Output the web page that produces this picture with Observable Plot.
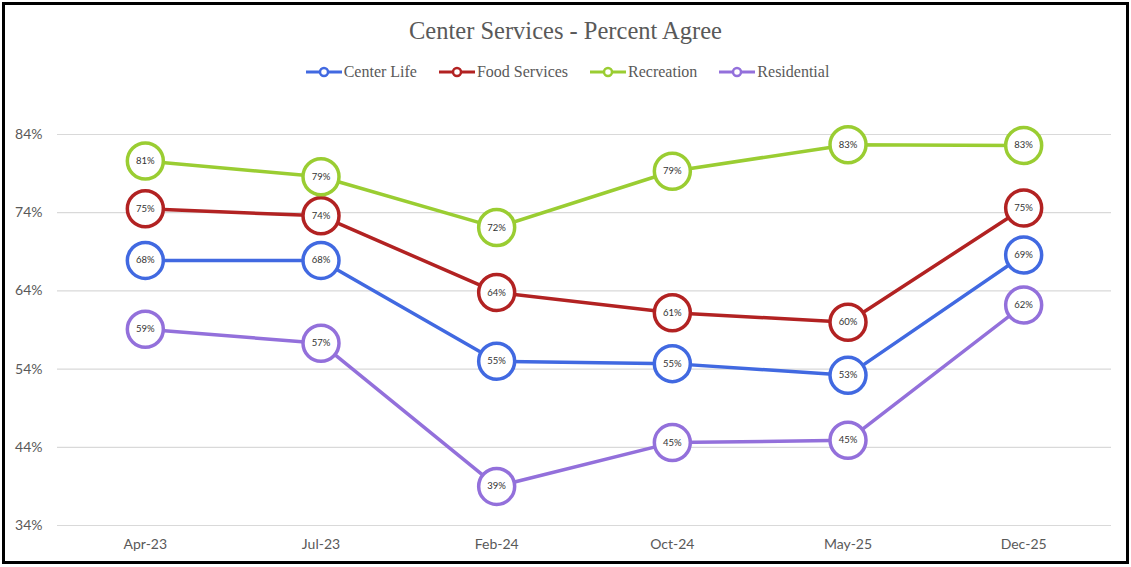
<!DOCTYPE html>
<html>
<head>
<meta charset="utf-8">
<script src="https://cdn.jsdelivr.net/npm/d3@7"></script>
<script src="https://cdn.jsdelivr.net/npm/@observablehq/plot@0.6"></script>
<style>
  html, body { margin: 0; padding: 0; background: #fff; width: 1131px; height: 567px; overflow: hidden; }
  #frame { position: absolute; left: 2px; top: 2px; width: 1127px; height: 562px; border: 3px solid #000; box-sizing: border-box; }
  #title { position: absolute; left: 0; top: 16px; width: 1131px; text-align: center; font-family: "Liberation Serif", "Times New Roman", serif; font-size: 24.5px; line-height: 30px; color: #595959; }
  #legend { position: absolute; left: 2px; top: 62px; width: 1131px; height: 20px; display: flex; justify-content: center; align-items: center; font-family: "Liberation Serif", "Times New Roman", serif; font-size: 16px; color: #595959; }
  .item { display: flex; align-items: center; margin: 0 11px; }
  .item svg { margin-right: 2px; }
  #chart { position: absolute; left: 0; top: 90px; }
</style>
</head>
<body>
<div id="frame"></div>
<div id="title">Center Services - Percent Agree</div>
<div id="legend"></div>
<div id="chart"></div>
<script>
const categories = ["Apr-23", "Jul-23", "Feb-24", "Oct-24", "May-25", "Dec-25"];
const seriesNames = ["Center Life", "Food Services", "Recreation", "Residential"];
const seriesColors = ["#4169E1", "#B22222", "#9ACD32", "#9370DB"];
const centerLife = [67.9, 67.9, 55.0, 54.7, 53.2, 68.6];
const foodServices = [74.5, 73.6, 63.8, 61.2, 60.0, 74.6];
const recreation = [80.6, 78.6, 72.1, 79.3, 82.7, 82.6];
const residential = [59.1, 57.3, 39.0, 44.6, 44.9, 62.2];
const yTicks = [34, 44, 54, 64, 74, 84];

const seriesValues = [centerLife, foodServices, recreation, residential];
const data = [];
seriesNames.forEach((s, i) => {
  categories.forEach((c, j) => {
    data.push({series: s, period: c, value: seriesValues[i][j]});
  });
});

// legend
const legend = document.getElementById("legend");
seriesNames.forEach((s, i) => {
  const item = document.createElement("div");
  item.className = "item";
  item.innerHTML = `<svg width="36" height="12"><line x1="0" y1="6" x2="36" y2="6" stroke="${seriesColors[i]}" stroke-width="3"/><circle cx="18" cy="6" r="4" fill="#fff" stroke="${seriesColors[i]}" stroke-width="2.5"/></svg><span>${s}</span>`;
  legend.appendChild(item);
});

const chart = Plot.plot({
  width: 1131,
  height: 470,
  marginLeft: 57,
  marginRight: 20,
  marginTop: 44,
  marginBottom: 35,
  style: {fontFamily: "Lato, 'Open Sans', sans-serif", fontSize: "14px", color: "#595959", background: "transparent", overflow: "visible"},
  x: {type: "point", domain: categories, padding: 0.5, round: false},
  y: {domain: [34, 84]},
  color: {domain: seriesNames, range: seriesColors},
  marks: [
    Plot.gridY(yTicks, {stroke: "#d9d9d9", strokeOpacity: 1, strokeWidth: 1.2}),
    Plot.axisY({ticks: yTicks, tickSize: 0, tickPadding: 15, tickFormat: d => d + "%", label: null, fontSize: 14}),
    Plot.axisX({tickSize: 0, tickPadding: 14, label: null, fontSize: 14}),
    Plot.line(data, {x: "period", y: "value", z: "series", stroke: "series", strokeWidth: 3.5}),
    Plot.dot(data, {x: "period", y: "value", stroke: "series", fill: "white", r: 18, strokeWidth: 3.5}),
    Plot.text(data, {x: "period", y: "value", text: d => Math.round(d.value) + "%", fontSize: 9.5, fill: "#333"})
  ]
});
document.getElementById("chart").appendChild(chart);
</script>
</body>
</html>
